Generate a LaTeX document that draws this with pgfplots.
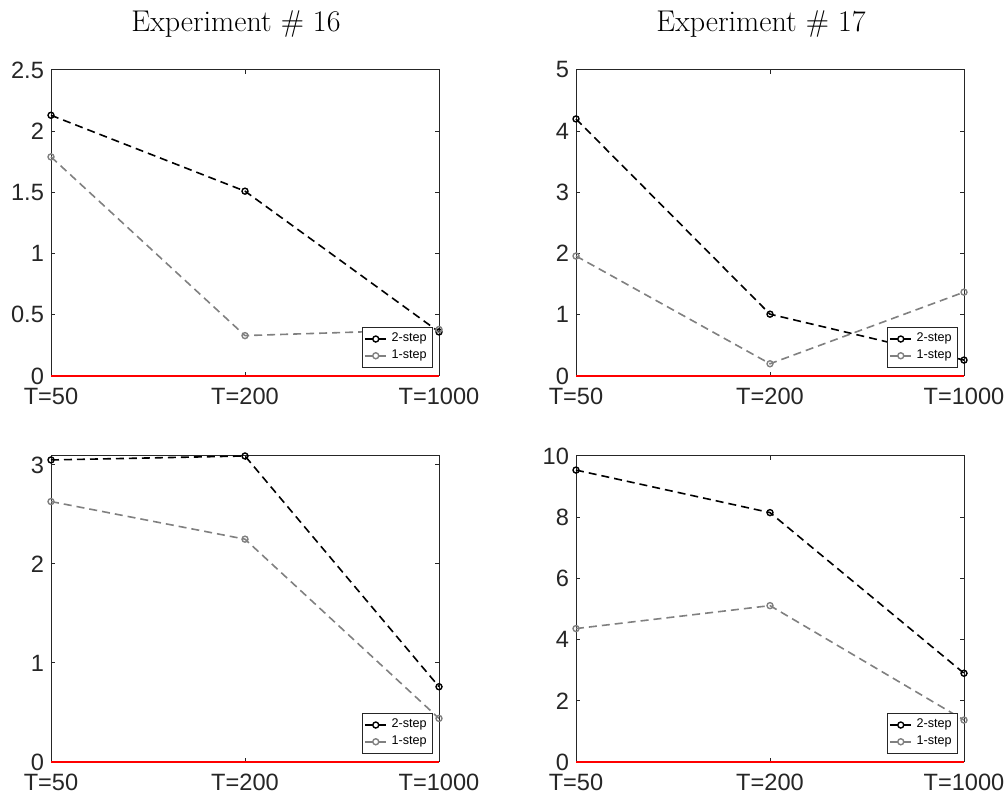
\documentclass[border=0pt]{standalone}
\usepackage{fontspec}
\newfontfamily\arial{Liberation Sans}
\usepackage{pgfplots}
\pgfplotsset{compat=1.18}
\definecolor{axgray}{RGB}{38,38,38}
\definecolor{midgray}{RGB}{128,128,128}
\pgfplotsset{
  panel/.style={
    scale only axis, width=194pt, height=153pt,
    anchor=south west,
    xmin=1, xmax=3, ymin=0,
    xtick={1,2,3}, xticklabels={T=50,T=200,T=1000},
    tick align=inside, major tick length=1.8pt,
    axis line style={axgray, line width=0.5pt},
    every tick/.style={axgray, line width=0.5pt},
    tick label style={font=\arial\fontsize{11.8}{14}\selectfont, text=axgray},
    /pgf/number format/assume math mode=true,
    xticklabel style={yshift=-2.5pt},
    title style={at={(0.5,1)}, anchor=base, yshift=13pt, xshift=-4.5pt,
      font=\fontsize{15}{18}\selectfont},
    legend style={at={(1,0)}, anchor=south east, xshift=-3pt, yshift=4pt,
      font=\arial\fontsize{6.3}{7}\selectfont, draw=axgray, line width=0.4pt,
      inner sep=1pt, row sep=-1.5pt, cells={anchor=west}},
    legend image code/.code={\draw[mark repeat=2,mark phase=2]
      plot coordinates {(0pt,0pt)(5.5pt,0pt)(11pt,0pt)};},
    clip=false,
  },
  twostep/.style={black, line width=0.8pt, dash pattern=on 4pt off 2.5pt,
    mark=o, mark size=1.5pt, mark options={solid, line width=0.7pt}},
  onestep/.style={midgray, line width=0.8pt, dash pattern=on 4pt off 2.5pt,
    mark=o, mark size=1.5pt, mark options={solid, line width=0.7pt}},
  zeroline/.style={red, line width=1pt, forget plot},
}
\begin{document}
\begin{tikzpicture}
\useasboundingbox (0,0) rectangle (503pt,398pt);

% Experiment 16, top
\begin{axis}[panel, at={(25.5pt,210pt)}, ymax=2.5, ytick={0,0.5,1,1.5,2,2.5},
  title={Experiment $\#$ 16}]
\addplot[twostep] coordinates {(1,2.13) (2,1.51) (3,0.36)};
\addlegendentry{2-step}
\addplot[onestep] coordinates {(1,1.79) (2,0.33) (3,0.38)};
\addlegendentry{1-step}
\addplot[zeroline] coordinates {(1,0) (3,0)};
\end{axis}

% Experiment 17, top
\begin{axis}[panel, at={(288pt,210pt)}, ymax=5, ytick={0,1,2,3,4,5},
  title={Experiment $\#$ 17}]
\addplot[twostep] coordinates {(1,4.2) (2,1.01) (3,0.26)};
\addlegendentry{2-step}
\addplot[onestep] coordinates {(1,1.96) (2,0.2) (3,1.37)};
\addlegendentry{1-step}
\addplot[zeroline] coordinates {(1,0) (3,0)};
\end{axis}

% Experiment 16, bottom
\begin{axis}[panel, at={(25.5pt,17pt)}, ymax=3.09, ytick={0,1,2,3}]
\addplot[twostep] coordinates {(1,3.05) (2,3.09) (3,0.76)};
\addlegendentry{2-step}
\addplot[onestep] coordinates {(1,2.63) (2,2.25) (3,0.44)};
\addlegendentry{1-step}
\addplot[zeroline] coordinates {(1,0) (3,0)};
\end{axis}

% Experiment 17, bottom
\begin{axis}[panel, at={(288pt,17pt)}, ymax=10, ytick={0,2,4,6,8,10}]
\addplot[twostep] coordinates {(1,9.54) (2,8.15) (3,2.9)};
\addlegendentry{2-step}
\addplot[onestep] coordinates {(1,4.36) (2,5.11) (3,1.37)};
\addlegendentry{1-step}
\addplot[zeroline] coordinates {(1,0) (3,0)};
\end{axis}
\end{tikzpicture}
\end{document}
